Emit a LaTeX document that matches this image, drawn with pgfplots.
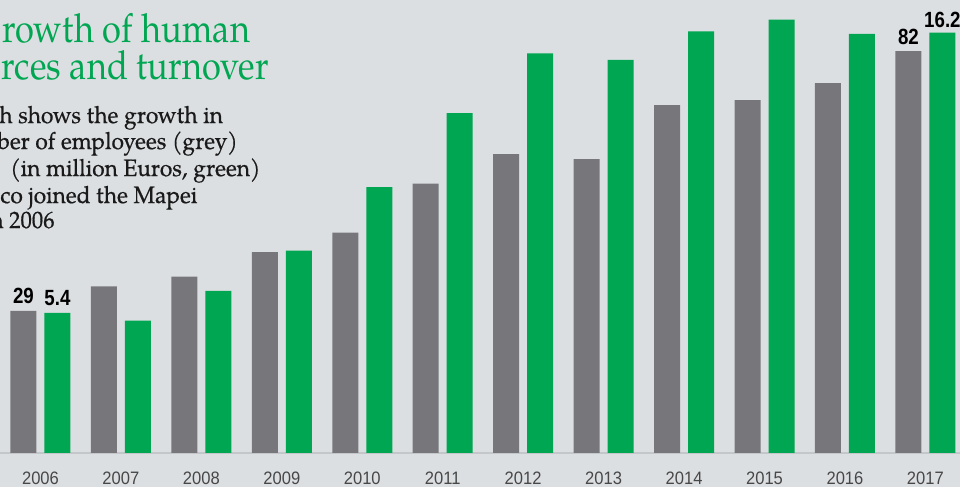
\documentclass[border=0pt]{standalone}
\usepackage{pgfplots}
\pgfplotsset{compat=1.18}
\usepackage{pgfplotstable}
\usepackage{fontspec}
\setmainfont{TeX Gyre Pagella}
\newfontfamily\titlefont[FakeStretch=0.86]{TeX Gyre Pagella}
\newfontfamily\bodyfont[FakeBold=0.6, FakeStretch=0.96]{TeX Gyre Pagella}
\newfontfamily\numfont[FakeStretch=0.85]{Liberation Sans}
\newfontfamily\yearfont[FakeStretch=0.92]{Liberation Sans}
\definecolor{bg}{HTML}{DCDFE2}
\definecolor{mgrey}{HTML}{77777B}
\definecolor{mgreen}{HTML}{00A651}
\definecolor{basecol}{HTML}{C4C7CA}
\definecolor{txt}{HTML}{1A1A1A}

\pgfplotstableread{
x emp turn
0 29 5.4
1 34 5.1
2 36 6.25
3 41 7.8
4 45 10.25
5 55 13.1
6 61 15.4
7 60 15.15
8 71 16.25
9 72 16.7
10 75.5 16.15
11 82 16.2
}\data

\begin{document}
\begin{tikzpicture}[x=0.5pt,y=0.5pt]
\fill[bg] (0,0) rectangle (960,487);
\useasboundingbox (0,0) rectangle (960,487);
\pgfplotsset{mybase/.style={at={(0pt,17pt)}, anchor=south west, width=480pt, height=226.5pt,
  scale only axis, xmin=-0.503, xmax=11.43, ymin=0, clip=false, bar width=13pt}}
\begin{axis}[mybase, ymax=92.45,
  axis x line*=bottom, axis y line=none,
  x axis line style={draw=basecol, line width=1pt, -},
  xtick=data, xtick style={draw=none},
  xticklabels={2006,2007,2008,2009,2010,2011,2012,2013,2014,2015,2016,2017},
  xticklabel style={anchor=base, yshift=-16pt, inner sep=0pt, font=\yearfont\fontsize{9}{10}\selectfont, text=black!72}]
\addplot[ybar, fill=mgrey, draw=none, bar shift=-8.5pt] table[x=x, y=emp] {\data};
\node[anchor=base, inner sep=0pt, font=\numfont\bfseries\fontsize{11}{12}\selectfont, xshift=-8.5pt, yshift=3.5pt] at (axis cs:0,29) {29};
\node[anchor=base, inner sep=0pt, font=\numfont\bfseries\fontsize{11}{12}\selectfont, xshift=-8.5pt, yshift=3.5pt] at (axis cs:11,82) {82};
\end{axis}
\begin{axis}[mybase, ymax=17.46, hide axis]
\addplot[ybar, fill=mgreen, draw=none, bar shift=8.5pt] table[x=x, y=turn] {\data};
\node[anchor=base, inner sep=0pt, font=\numfont\bfseries\fontsize{11}{12}\selectfont, xshift=8.5pt, yshift=3.5pt] at (axis cs:0,5.4) {5.4};
\node[anchor=base, inner sep=0pt, font=\numfont\bfseries\fontsize{11}{12}\selectfont, xshift=8.5pt, yshift=2.5pt] at (axis cs:11,16.2) {16.2};
\end{axis}
\begin{scope}[every node/.style={anchor=base west, inner sep=0pt}]
\node[text=mgreen, font=\titlefont\fontsize{20}{22}\selectfont] at (2,444) {rowth of human};
\node[text=mgreen, font=\titlefont\fontsize{20}{22}\selectfont] at (1,407) {rces and turnover};
\node[text=txt, font=\bodyfont\fontsize{11.8}{14}\selectfont] at (-1,364) {h shows the growth in};
\node[text=txt, font=\bodyfont\fontsize{11.8}{14}\selectfont] at (-3,338) {ber of employees (grey)};
\node[text=txt, font=\bodyfont\fontsize{11.8}{14}\selectfont] at (10,311) {(in million Euros, green)};
\node[text=txt, font=\bodyfont\fontsize{11.8}{14}\selectfont] at (0,284) {co joined the Mapei};
\node[text=txt, font=\bodyfont\fontsize{11.8}{14}\selectfont] at (-10,259) {n 2006};
\end{scope}
\end{tikzpicture}
\end{document}
